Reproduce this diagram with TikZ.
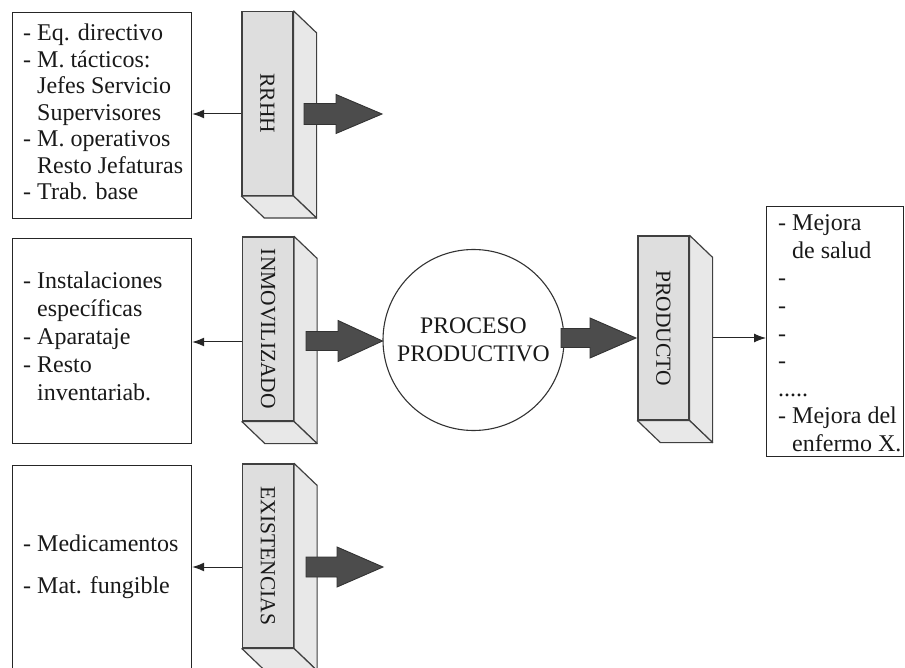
\documentclass[tikz,border=0pt]{standalone}
\usepackage{fontspec}
\setmainfont{Liberation Serif}
\usetikzlibrary{calc,arrows.meta}
\newcommand\ind{\hphantom{- }}
\newcommand\fatarrow[6]{% x0, xhead, xtip, cy, shaft half, head half
  \draw[fatarr] (#1,#4-#5) -- (#2,#4-#5) -- (#2,#4-#6) -- (#3,#4) -- (#2,#4+#6) -- (#2,#4+#5) -- (#1,#4+#5) -- cycle;}
\begin{document}
\begin{tikzpicture}[x=1pt,y=-1pt,
  listbox/.style={draw=black!85,line width=1.2pt,inner sep=0pt,anchor=north west},
  listtext/.style={inner sep=0pt,anchor=north west,align=left,text=black!90},
  frontface/.style={draw=black!75,line width=1.2pt,fill=black!13,inner sep=0pt,minimum width=51pt,minimum height=184pt},
  face/.style={draw=black!75,line width=1.2pt,fill=black!9,line join=round},
  blocklabel/.style={rotate=-90,inner sep=0pt,font=\fontsize{21.5}{24}\selectfont,text=black!90},
  fatarr/.style={draw=black!80,line width=0.9pt,fill=black!70},
  thinarr/.style={draw=black!85,line width=1pt,-{Latex[length=12pt,width=9pt]}}]
\useasboundingbox (0,0) rectangle (905,668);
\clip (0,0) rectangle (905,668);

% ---------- left boxes ----------
\node[listbox,minimum width=179pt,minimum height=206pt] (box1) at (12,12) {};
\node[listtext,font=\fontsize{24}{26.5}\selectfont] (t1) at (23,24.1)
 {- Eq. directivo\\- M. tácticos:\\\ind Jefes Servicio\\\ind Supervisores\\- M. operativos\\\ind Resto Jefaturas\\- Trab. base};

\node[listbox,minimum width=179pt,minimum height=205pt] (box2) at (12,238) {};
\node[listtext,font=\fontsize{24}{28}\selectfont] (t2) at (23,271.6)
 {- Instalaciones\\\ind específicas\\- Aparataje\\- Resto\\\ind inventariab.};

\node[listbox,minimum width=179pt,minimum height=240pt] (box3) at (12,465) {};
\node[listtext,font=\fontsize{24}{42}\selectfont] (t3) at (23,534.6)
 {- Medicamentos\\- Mat. fungible};

% ---------- blocks ----------
\foreach \nm/\cx/\cy/\lab in {rrhh/267.5/103.5/RRHH, inmo/268/329/INMOVILIZADO, exis/268/556/EXISTENCIAS, prod/663.5/328/PRODUCTO}{
  \node[frontface] (\nm) at (\cx,\cy) {};
  \draw[face] (\nm.north east) -- ++(23,22) -- ($(\nm.south east)+(23,22)$) -- (\nm.south east) -- cycle;
  \draw[face] (\nm.south west) -- ++(23,22) -- ($(\nm.south east)+(23,22)$) -- (\nm.south east) -- cycle;
  \node[blocklabel] (\nm-lab) at (\nm.center) {\lab};
}

% ---------- circle ----------
\node[circle,draw=black!80,line width=1.1pt,minimum size=181pt,inner sep=0pt,align=center,
      font=\fontsize{23.7}{28}\selectfont,text=black!90] (proc) at (473.5,340) {PROCESO\\PRODUCTIVO};

% ---------- right box ----------
\node[listbox,minimum width=137pt,minimum height=250pt] (box4) at (766,206) {};
\node[listtext,font=\fontsize{24}{27.6}\selectfont] (t4) at (778,214.6)
 {- Mejora\\\ind de salud\\-\\-\\-\\-\\.....\\- Mejora del\\\ind enfermo X.};

% ---------- fat arrows ----------
\fatarrow{304}{336}{382}{114}{10.5}{19.5}
\fatarrow{306}{338}{382.5}{341}{9.5}{20.5}
\fatarrow{306}{337}{383}{567}{10}{20}
\fatarrow{561}{590}{636}{338}{9.5}{20}

% ---------- thin arrows ----------
\draw[thinarr] (rrhh.west |- 0,114) -- (box1.east |- 0,114);
\draw[thinarr] (inmo.west |- 0,342) -- (box2.east |- 0,342);
\draw[thinarr] (exis.west |- 0,567) -- (box3.east |- 0,567);
\draw[thinarr] ($(prod.east)+(23,10)$) -- (box4.west |- 0,338);
\end{tikzpicture}
\end{document}
